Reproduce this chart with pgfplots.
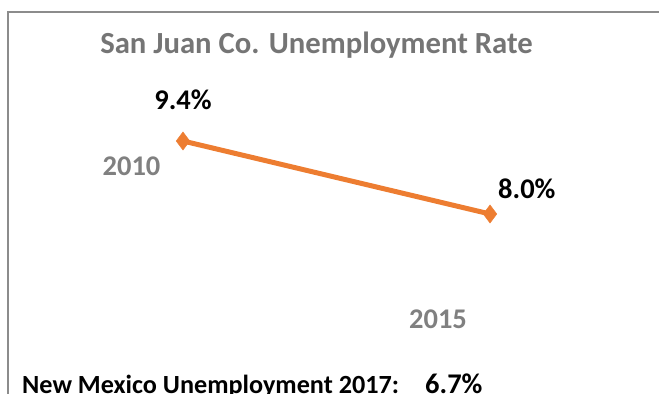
\documentclass[border=0pt]{standalone}
\usepackage{pgfplots}
\pgfplotsset{compat=1.18}
\usepackage{fontspec}
\setmainfont{Carlito}
\definecolor{sjorange}{HTML}{ED7D31}
\definecolor{titlegray}{HTML}{757575}
\definecolor{yeargray}{HTML}{808080}
\definecolor{framegray}{HTML}{8C8C8C}
\begin{document}
\begin{tikzpicture}[x=1bp,y=1bp]
\useasboundingbox (0,0) rectangle (659,393);
\draw[framegray, line width=2bp] (8,-2) -- (8,381) -- (659,381);
\begin{axis}[
  at={(0,0)}, anchor=origin,
  scale only axis,
  width=659bp, height=393bp,
  xmin=2007.020, xmax=2017.752,
  ymin=4.567, ymax=12.104,
  axis lines=none,
  ticks=none,
  clip=false,
]
\addplot[sjorange, line width=5bp, mark=diamond*, mark size=9bp,
  mark options={solid, fill=sjorange, draw=sjorange, line width=0.5bp}]
  coordinates {(2010,9.4) (2015,8.0)};
\node[font=\fontsize{28.5bp}{32bp}\selectfont\bfseries, anchor=base] at (axis cs:2010,10.0) {9.4\%};
\node[font=\fontsize{28.5bp}{32bp}\selectfont\bfseries, anchor=base] at (axis cs:2015.60,8.30) {8.0\%};
\end{axis}
\node[font=\fontsize{30.7bp}{34bp}\selectfont\bfseries, text=titlegray, anchor=base] at (316.5,340) {San Juan Co. Unemployment Rate};
\node[font=\fontsize{28.5bp}{32bp}\selectfont\bfseries, text=yeargray, anchor=base] at (131.5,218) {2010};
\node[font=\fontsize{28.5bp}{32bp}\selectfont\bfseries, text=yeargray, anchor=base] at (438,65) {2015};
\node[font=\fontsize{26.2bp}{30bp}\selectfont\bfseries, anchor=base west, inner sep=0pt] at (22,0) {New Mexico Unemployment 2017:};
\node[font=\fontsize{28.5bp}{32bp}\selectfont\bfseries, anchor=base west, inner sep=0pt] at (425,0) {6.7\%};
\end{tikzpicture}
\end{document}
